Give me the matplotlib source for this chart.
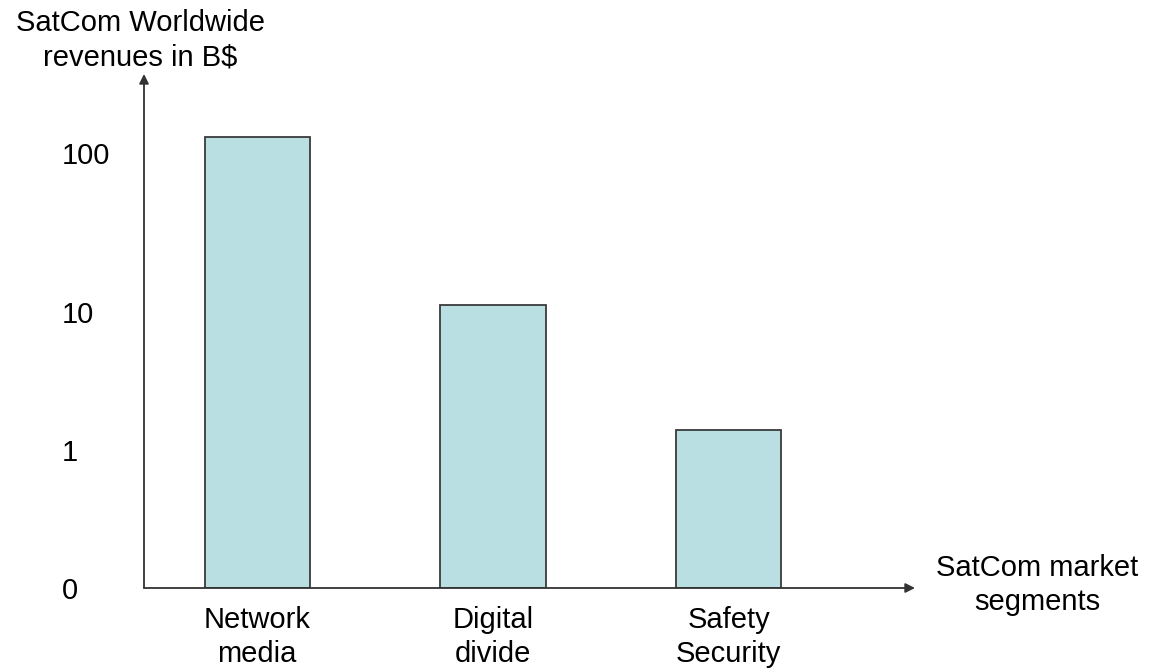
import matplotlib
matplotlib.use("Agg")
import matplotlib.pyplot as plt
import numpy as np

# Data (broken log-like revenue axis, B$)
segments = ["Network\nmedia", "Digital\ndivide", "Safety\nSecurity"]
revenues = [126, 11.1, 1.4]
tick_values = [0, 1, 10, 100]
tick_labels = ["0", "1", "10", "100"]

plt.rcParams["font.family"] = ["Liberation Sans", "DejaVu Sans"]

# Axis positions of the ticks 0 / 1 / 10 / 100 (linear below 1, log above)
KNOT_POS = [138.0, 276.0, 435.0]


def forward(v):
    v = np.asarray(v, dtype=float)
    lv = np.log10(np.clip(v, 1, None))
    upper = np.where(lv > 2, 435.0 + (lv - 2) * 159.0, np.interp(lv, [0, 1, 2], KNOT_POS))
    return np.where(v < 1, 138.0 * v, upper)


def inverse(p):
    p = np.asarray(p, dtype=float)
    low = p / 138.0
    mid = 10 ** ((np.clip(p, 138, 276) - 138.0) / 138.0)
    high = 10 ** (1 + (np.clip(p, 276, None) - 276.0) / 159.0)
    return np.where(p < 138, low, np.where(p < 276, mid, high))


fig = plt.figure(figsize=(11.52, 6.68), dpi=100)
ax = fig.add_axes([144 / 1152, 80 / 668, 771 / 1152, 514 / 668])

ax.set_yscale("function", functions=(forward, inverse))

x = np.arange(len(segments))
ax.bar(x, revenues, width=0.446, color="#BADFE2", edgecolor="#3a3a3a", linewidth=1.3)

ax.set_xlim(-0.48, 2.79)
ax.set_ylim(0, inverse(514))

ax.set_yticks(tick_values)
ax.set_yticklabels(tick_labels, fontsize=21)
ax.minorticks_off()
ax.yaxis.set_tick_params(length=0, pad=59)
for lbl in ax.get_yticklabels():
    lbl.set_horizontalalignment("left")

ax.set_xticks(x)
ax.set_xticklabels(segments, fontsize=21, linespacing=1.25)
ax.xaxis.set_tick_params(length=0, pad=13)

for s in ax.spines.values():
    s.set_visible(False)

arrow = dict(arrowstyle="-|>", color="#333333", lw=1.3, mutation_scale=14, shrinkA=0, shrinkB=0)
ax.annotate("", xy=(0, 1), xytext=(0, 0), xycoords="axes fraction", arrowprops=arrow, annotation_clip=False)
ax.annotate("", xy=(1, 0), xytext=(0, 0), xycoords="axes fraction", arrowprops=arrow, annotation_clip=False)

fig.text(140 / 1152, 1 - 40 / 668, "SatCom Worldwide\nrevenues in B$", ha="center", va="center",
         fontsize=21, linespacing=1.3)
fig.text(1037 / 1152, 1 - 585 / 668, "SatCom market\nsegments", ha="center", va="center",
         fontsize=21, linespacing=1.25)

fig.savefig("out.png", dpi=100)
